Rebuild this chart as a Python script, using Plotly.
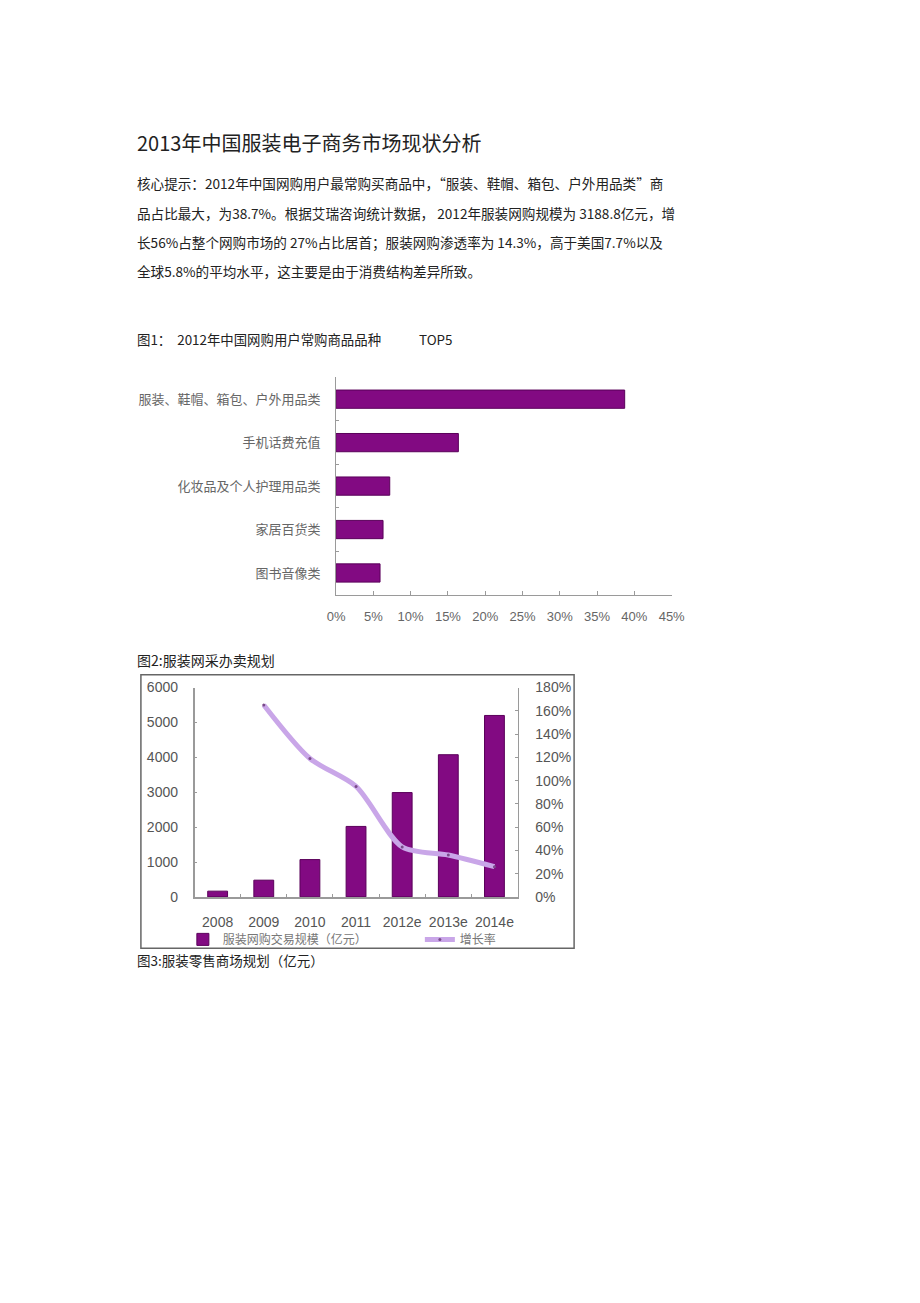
import plotly.graph_objects as go

# page size and the 8px body margin of the html page
W, H = 920, 1303
M = 8
FW, FH = W - 2 * M, H - 2 * M

# ---------------- data ----------------
fig1_categories = ["服装、鞋帽、箱包、户外用品类", "手机话费充值", "化妆品及个人护理用品类", "家居百货类", "图书音像类"]
fig1_share = [38.7, 16.4, 7.2, 6.3, 5.9]
fig1_ticks = [0, 5, 10, 15, 20, 25, 30, 35, 40, 45]

fig2_years = ["2008", "2009", "2010", "2011", "2012e", "2013e", "2014e"]
fig2_scale = [165, 480, 1070, 2020, 2990, 4075, 5200]
fig2_growth_years = ["2009", "2010", "2011", "2012e", "2013e", "2014e"]
fig2_growth = [165, 119, 95, 43, 36, 26]

title_text = "2013年中国服装电子商务市场现状分析"
para_lines = [
    "核心提示：2012年中国网购用户最常购买商品中，“服装、鞋帽、箱包、户外用品类”商",
    "品占比最大，为38.7%。根据艾瑞咨询统计数据， 2012年服装网购规模为 3188.8亿元，增",
    "长56%占整个网购市场的 27%占比居首；服装网购渗透率为 14.3%，高于美国7.7%以及",
    "全球5.8%的平均水平，这主要是由于消费结构差异所致。",
]
cap1_left = "图1：  2012年中国网购用户常购商品品种"
cap1_right = "TOP5"
cap2 = "图2:服装网采办卖规划"
cap3 = "图3:服装零售商场规划（亿元）"
legend_bar = "服装网购交易规模（亿元）"
legend_line = "增长率"


def px(x):
    return (x - M) / FW


def py(y):
    return 1 - (y - M) / FH


CJK = "Noto Sans CJK SC"
SANS = "Liberation Sans"

fig = go.Figure()

# Figure 1: horizontal bars
fig.add_trace(go.Bar(
    x=fig1_share, y=fig1_categories, orientation="h",
    marker=dict(color="#820a82", line=dict(color="#5a005a", width=1)),
    width=0.42, xaxis="x", yaxis="y", showlegend=False,
))

# Figure 2: bars + growth line
fig.add_trace(go.Bar(
    x=fig2_years, y=fig2_scale, name=legend_bar,
    marker=dict(color="#820a82", line=dict(color="#5a005a", width=1)),
    width=0.43, xaxis="x2", yaxis="y2", showlegend=True,
))
fig.add_trace(go.Scatter(
    x=fig2_growth_years, y=fig2_growth, name=legend_line,
    mode="lines+markers", line=dict(color="#c9a6e8", width=5, shape="spline", smoothing=0.8),
    marker=dict(size=3, color="#7a4a8a"),
    xaxis="x2", yaxis="y3", showlegend=True,
))

axis_gray = "#9a9a9a"

fig.update_layout(
    width=FW, height=FH,
    margin=dict(l=0, r=0, t=0, b=0),
    paper_bgcolor="white", plot_bgcolor="rgba(0,0,0,0)",
    font=dict(family=CJK, color="#333"),
    bargap=0.5,
    xaxis=dict(
        domain=[px(335), px(679)], anchor="y", range=[0, 45],
        tickvals=fig1_ticks, ticktext=[f"{v}%" for v in fig1_ticks],
        showgrid=False, zeroline=False, showline=True, linecolor=axis_gray, linewidth=1,
        ticks="inside", ticklen=4, tickcolor=axis_gray,
        tickfont=dict(family=SANS, size=13, color="#666"), ticklabelstandoff=10,
    ),
    yaxis=dict(
        domain=[py(594), py(374)], anchor="x",
        categoryorder="array", categoryarray=fig1_categories, autorange="reversed",
        showgrid=False, zeroline=False, showline=True, linecolor=axis_gray, linewidth=1,
        ticks="inside", ticklen=3, tickcolor=axis_gray, tickson="boundaries",
        tickfont=dict(family=CJK, size=13, color="#666"), ticklabelstandoff=12,
    ),
    xaxis2=dict(
        domain=[px(190), px(521)], anchor="y2",
        categoryorder="array", categoryarray=fig2_years, tickangle=0,
        showgrid=False, zeroline=False, showline=True, linecolor=axis_gray, linewidth=1.5,
        ticks="inside", ticklen=3, tickcolor=axis_gray, tickson="boundaries",
        tickfont=dict(family=SANS, size=14, color="#555"), ticklabelstandoff=12,
    ),
    yaxis2=dict(
        domain=[py(900), py(688)], anchor="x2", range=[0, 6000], dtick=1000,
        showgrid=False, zeroline=False, showline=True, linecolor=axis_gray, linewidth=1.5,
        ticks="inside", ticklen=3, tickcolor=axis_gray,
        tickfont=dict(family=SANS, size=14, color="#555"), ticklabelstandoff=12,
    ),
    yaxis3=dict(
        domain=[py(900), py(688)], anchor="x2", overlaying="y2", side="right",
        range=[0, 180], dtick=20, ticksuffix="%",
        showgrid=False, zeroline=False, showline=True, linecolor=axis_gray, linewidth=1,
        ticks="inside", ticklen=3, tickcolor=axis_gray,
        tickfont=dict(family=SANS, size=14, color="#555"), ticklabelstandoff=14,
    ),
    legend=dict(
        orientation="h", x=px(178), y=py(943), xanchor="left", yanchor="middle",
        font=dict(family=CJK, size=12, color="#777"), bgcolor="rgba(0,0,0,0)",
        entrywidth=192, itemwidth=30, traceorder="normal",
        tracegroupgap=0, borderwidth=0,
    ),
)

# frame around figure 2
fig.add_shape(type="rect", xref="paper", yref="paper",
              x0=px(135), x1=px(579), y0=py(952), y1=py(675),
              line=dict(color="#666", width=1.5), fillcolor="rgba(0,0,0,0)", layer="below")

TX = 129
ann = []
ann.append(dict(text=title_text, x=px(TX), y=py(136), font=dict(size=20, color="#222")))
for i, (line, yy) in enumerate(zip(para_lines, [177, 207, 237, 266])):
    ann.append(dict(text=line, x=px(TX), y=py(yy), font=dict(size=13.6, color="#222")))
ann.append(dict(text=cap1_left, x=px(TX), y=py(335), font=dict(size=13.4, color="#222")))
ann.append(dict(text=cap1_right, x=px(418), y=py(335), font=dict(size=13.4, color="#222")))
ann.append(dict(text=cap2, x=px(TX), y=py(660), font=dict(size=14, color="#222")))
ann.append(dict(text=cap3, x=px(TX), y=py(964), font=dict(size=13.5, color="#222")))

for a in ann:
    a.update(xref="paper", yref="paper", xanchor="left", yanchor="middle", showarrow=False)
    a["font"]["family"] = CJK
    fig.add_annotation(**a)

fig.write_html("out.html")
